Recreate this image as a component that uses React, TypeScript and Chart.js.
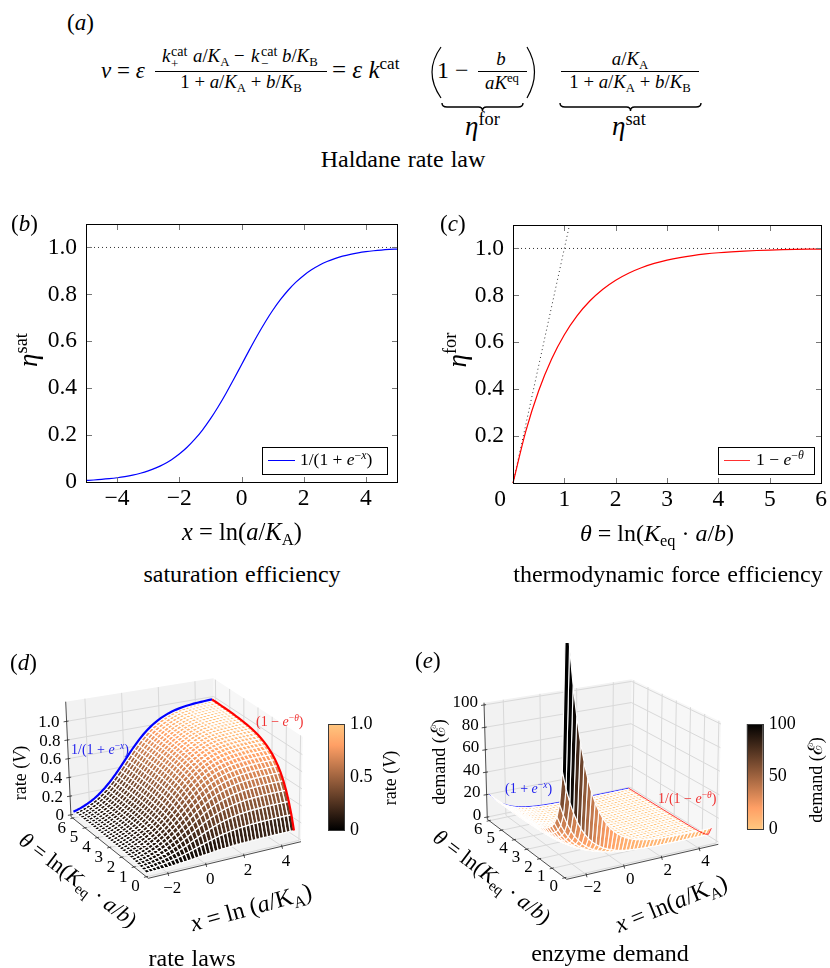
import React, { useEffect, useRef } from "react";
import { Chart, registerables } from "chart.js";

Chart.register(...registerables);

const SERIF = '"Liberation Serif", "Times New Roman", serif';
Chart.defaults.font.family = SERIF;

// ---------- panel (b) ----------
const satX = [-5,-4.75,-4.5,-4.25,-4,-3.75,-3.5,-3.25,-3,-2.75,-2.5,-2.25,-2,-1.75,-1.5,-1.25,-1,-0.75,-0.5,-0.25,0,0.25,0.5,0.75,1,1.25,1.5,1.75,2,2.25,2.5,2.75,3,3.25,3.5,3.75,4,4.25,4.5,4.75,5];
const satY = [0.0067,0.0086,0.011,0.0141,0.018,0.023,0.0293,0.0373,0.0474,0.0601,0.0759,0.0953,0.1192,0.148,0.1824,0.2227,0.2689,0.3208,0.3775,0.4378,0.5,0.5622,0.6225,0.6792,0.7311,0.7773,0.8176,0.852,0.8808,0.9047,0.9241,0.9399,0.9526,0.9627,0.9707,0.977,0.982,0.9859,0.989,0.9914,0.9933];
const bXTicks = [-4,-2,0,2,4];
const bYTicks = [0,0.2,0.4,0.6,0.8,1.0];
const bXRange = [-5,5];
// ---------- panel (c) ----------
const forX = [0,0.25,0.5,0.75,1,1.25,1.5,1.75,2,2.25,2.5,2.75,3,3.25,3.5,3.75,4,4.25,4.5,4.75,5,5.25,5.5,5.75,6];
const forY = [0,0.2212,0.3935,0.5276,0.6321,0.7135,0.7769,0.8262,0.8647,0.8946,0.9179,0.9361,0.9502,0.9612,0.9698,0.9765,0.9817,0.9857,0.9889,0.9913,0.9933,0.9948,0.9959,0.9968,0.9975];
const cXTicks = [1,2,3,4,5,6];
const cYTicks = [0.2,0.4,0.6,0.8,1.0];
const cXRange = [0,6];
const tangentX = [0,1.1];
const tangentY = [0,1.1];
const yRange = [0,1.1];

// ---------- panels (d), (e) ----------
const gridX = [-3,-2.8,-2.6,-2.4,-2.2,-2,-1.8,-1.6,-1.4,-1.2,-1,-0.8,-0.6,-0.4,-0.2,0,0.2,0.4,0.6,0.8,1,1.2,1.4,1.6,1.8,2,2.2,2.4,2.6,2.8,3,3.2,3.4,3.6,3.8,4,4.2,4.4,4.6,4.8];
const gridSat = [0.047,0.057,0.069,0.083,0.1,0.119,0.142,0.168,0.198,0.231,0.269,0.31,0.354,0.401,0.45,0.5,0.55,0.599,0.646,0.69,0.731,0.769,0.802,0.832,0.858,0.881,0.9,0.917,0.931,0.943,0.953,0.961,0.968,0.973,0.978,0.982,0.985,0.988,0.99,0.992];
const gridTheta = [0.1,0.3,0.5,0.7,0.9,1.1,1.3,1.5,1.7,1.9,2.1,2.3,2.5,2.7,2.9,3.1,3.3,3.5,3.7,3.9,4.1,4.3,4.5,4.7,4.9,5.1,5.3,5.5,5.7,5.9,6];
const gridFor = [0.095,0.259,0.393,0.503,0.593,0.667,0.727,0.777,0.817,0.85,0.878,0.9,0.918,0.933,0.945,0.955,0.963,0.97,0.975,0.98,0.983,0.986,0.989,0.991,0.993,0.994,0.995,0.996,0.997,0.997,0.998];
const rateTable = gridFor.map((f) => gridSat.map((s) => s * f));
const demandTable = gridFor.map((f) => gridSat.map((s) => 1 / (s * f)));
const ticks3dX = [-2,0,2,4];
const ticks3dTheta = [0,1,2,3,4,5,6];
const ticksRateZ = [0,0.2,0.4,0.6,0.8,1.0];
const ticksDemandZ = [0,20,40,60,80,100];
const rateBarTicks = [0,0.5,1];
const demandBarTicks = [0,50,100];

type P = { x: number; y: number };

function copper(v: number) {
  const t = Math.max(0, Math.min(1, v));
  const r = Math.min(1, 1.25 * t), g = 0.7812 * t, b = 0.4975 * t;
  return `rgb(${Math.round(r * 255)},${Math.round(g * 255)},${Math.round(b * 255)})`;
}

// projection of the 3-d box: the page positions of its eight corners
type Box = {
  origin: P; size: P;
  x: number[]; theta: number[]; z: number[];
  A: P; B: P; C: P; D: P; TA: P; TB: P; TL: P; TR: P;
};
const boxD: Box = {
  origin: { x: 0, y: 640 }, size: { x: 326, y: 260 },
  x: [-3.05, 5], theta: [-0.15, 6.15], z: [-0.02, 1.21],
  A: { x: 148.3, y: 878.3 }, B: { x: 301, y: 841.7 }, C: { x: 71, y: 816.7 }, D: { x: 214.7, y: 785 },
  TA: { x: 146, y: 753 }, TR: { x: 302.7, y: 736.7 }, TL: { x: 65.7, y: 701.7 }, TB: { x: 213.3, y: 678.3 },
};
const boxE: Box = {
  origin: { x: 440, y: 643 }, size: { x: 300, y: 257 },
  x: [-3.05, 5], theta: [-0.15, 6.15], z: [-2, 102],
  A: { x: 566.7, y: 879.3 }, B: { x: 718.3, y: 844.3 }, C: { x: 487.3, y: 819.3 }, D: { x: 630, y: 789.3 },
  TA: { x: 567.5, y: 751 }, TR: { x: 721, y: 721.7 }, TL: { x: 484, y: 702.7 }, TB: { x: 631.7, y: 679.3 },
};

function project(b: Box, x: number, th: number, z: number): P {
  const u = (x - b.x[0]) / (b.x[1] - b.x[0]);
  const v = (th - b.theta[0]) / (b.theta[1] - b.theta[0]);
  const w = (z - b.z[0]) / (b.z[1] - b.z[0]);
  const mix = (k: "x" | "y") => {
    const lo = (1 - v) * ((1 - u) * b.A[k] + u * b.B[k]) + v * ((1 - u) * b.C[k] + u * b.D[k]);
    const hi = (1 - v) * ((1 - u) * b.TA[k] + u * b.TR[k]) + v * ((1 - u) * b.TL[k] + u * b.TB[k]);
    return (1 - w) * lo + w * hi;
  };
  return { x: mix("x") - b.origin.x, y: mix("y") - b.origin.y };
}

function lineDs(data: P[], color: string, width: number, extra: any = {}) {
  return { data, showLine: true, borderColor: color, borderWidth: width, pointRadius: 0, tension: 0, fill: false, clip: false, ...extra };
}
function faceDs(data: P[], color: string) {
  return { data, showLine: true, borderColor: color, borderWidth: 0, pointRadius: 0, tension: 0, fill: "shape", backgroundColor: color };
}

function surfaceConfig(b: Box, table: number[][], colorOf: (z: number) => string, edge: number, curve: number, blueBehind: boolean, zTicks: number[], zLabel: (v: number) => string, offs: { x: P; th: P; z: P }) {
  const ds: any[] = [];
  const [x0, x1] = b.x, [t0, t1] = b.theta, [z0, z1] = b.z;
  const last = gridX.length - 1;
  const rows = gridTheta.length - 1;
  const blue = lineDs(gridX.map((x, i) => project(b, x, gridTheta[rows], table[rows][i])), "#0000ff", curve);
  ds.push(lineDs(gridTheta.map((t, j) => project(b, gridX[last], t, table[j][last])), "#ff0000", curve));
  if (!blueBehind) ds.push(blue);
  // mesh, nearest cell first
  for (let j = 0; j < rows; j++) {
    if (blueBehind && j === rows - 1) ds.push(blue);
    for (let i = 0; i < gridX.length - 1; i++) {
      const m = (table[j][i] + table[j][i + 1] + table[j + 1][i] + table[j + 1][i + 1]) / 4;
      ds.push({
        data: [
          project(b, gridX[i], gridTheta[j], table[j][i]),
          project(b, gridX[i + 1], gridTheta[j], table[j][i + 1]),
          project(b, gridX[i + 1], gridTheta[j + 1], table[j + 1][i + 1]),
          project(b, gridX[i], gridTheta[j + 1], table[j + 1][i]),
          project(b, gridX[i], gridTheta[j], table[j][i]),
        ],
        showLine: true, fill: "shape", backgroundColor: colorOf(m), borderColor: "#ffffff", borderWidth: edge, pointRadius: 0, tension: 0,
      });
    }
  }
  // axis lines and ticks
  const axis = "#222222";
  ds.push(lineDs([project(b, x0, t0, z0), project(b, x1, t0, z0)], axis, 0.8));
  ds.push(lineDs([project(b, x0, t0, z0), project(b, x0, t1, z0)], axis, 0.8));
  ds.push(lineDs([project(b, x0, t1, z0), project(b, x0, t1, z1)], axis, 0.8));
  for (const v of zTicks) {
    const p = project(b, x0, t1, v);
    ds.push(lineDs([{ x: p.x - 3, y: p.y + 0.5 }, { x: p.x + 2, y: p.y - 0.3 }], axis, 0.8));
  }
  for (const v of ticks3dX) {
    const p = project(b, v, t0, z0);
    ds.push(lineDs([{ x: p.x - 0.5, y: p.y - 1.5 }, { x: p.x + 0.5, y: p.y + 2.5 }], axis, 0.8));
  }
  for (const v of ticks3dTheta) {
    const p = project(b, x0, v, z0);
    ds.push(lineDs([{ x: p.x + 1.5, y: p.y - 0.5 }, { x: p.x - 2.5, y: p.y + 0.5 }], axis, 0.8));
  }
  // grid
  const grid = "#d9d9d9";
  for (const v of ticks3dX) ds.push(lineDs([project(b, v, t0, z0), project(b, v, t1, z0), project(b, v, t1, z1)], grid, 1));
  for (const v of ticks3dTheta) ds.push(lineDs([project(b, x0, v, z0), project(b, x1, v, z0), project(b, x1, v, z1)], grid, 1));
  for (const v of zTicks) ds.push(lineDs([project(b, x0, t1, v), project(b, x1, t1, v), project(b, x1, t0, v)], grid, 1));
  // panes
  ds.push(faceDs([project(b, x0, t0, z0), project(b, x1, t0, z0), project(b, x1, t1, z0), project(b, x0, t1, z0), project(b, x0, t0, z0)], "#f3f3f3"));
  ds.push(faceDs([project(b, x0, t1, z0), project(b, x1, t1, z0), project(b, x1, t1, z1), project(b, x0, t1, z1), project(b, x0, t1, z0)], "#f2f2f2"));
  ds.push(faceDs([project(b, x1, t1, z0), project(b, x1, t0, z0), project(b, x1, t0, z1), project(b, x1, t1, z1), project(b, x1, t1, z0)], "#f7f7f7"));

  const labels = {
    id: "labels3d",
    afterDraw(c: any) {
      const g = c.ctx;
      g.save();
      g.fillStyle = "#000";
      g.font = `17px ${SERIF}`;
      g.textBaseline = "middle";
      g.textAlign = "center";
      for (const v of ticks3dX) {
        const p = project(b, v, t0, z0);
        g.fillText(v < 0 ? "\u2212" + -v : String(v), p.x + offs.x.x, p.y + offs.x.y);
      }
      for (const v of ticks3dTheta) {
        const p = project(b, x0, v, z0);
        g.fillText(String(v), p.x + offs.th.x, p.y + offs.th.y);
      }
      g.textAlign = "right";
      for (const v of zTicks) {
        const p = project(b, x0, t1, v);
        g.fillText(zLabel(v), p.x + offs.z.x, p.y + offs.z.y);
      }
      g.restore();
    },
  };
  return {
    type: "scatter",
    data: { datasets: ds },
    plugins: [labels],
    options: {
      responsive: false, animation: false, events: [], devicePixelRatio: 1,
      layout: { padding: 0 },
      plugins: { legend: { display: false }, tooltip: { enabled: false } },
      scales: {
        x: { type: "linear", display: false, min: 0, max: b.size.x },
        y: { type: "linear", display: false, min: 0, max: b.size.y, reverse: true },
      },
    },
  };
}

function fmtY(v: number) {
  return v === 0 ? "0" : v.toFixed(1);
}
function fmtX(v: number) {
  return v < 0 ? "\u2212" + -v : String(v);
}

function lineConfig(o: { datasets: any[]; xRange: number[]; xTicks: number[]; yTicks: number[]; left: number; top: number; bottom: number; right: number }) {
  const off = { display: false, drawTicks: false };
  return {
    type: "scatter",
    data: { datasets: o.datasets },
    options: {
      responsive: false, animation: false, events: [], devicePixelRatio: 1,
      layout: { padding: { top: o.top, right: o.right, left: 0, bottom: 0 } },
      plugins: { legend: { display: false }, tooltip: { enabled: false } },
      scales: {
        x: {
          type: "linear", position: "bottom", min: o.xRange[0], max: o.xRange[1], grid: off, border: { display: false },
          afterBuildTicks: (s: any) => { s.ticks = o.xTicks.map((value) => ({ value })); },
          afterFit: (s: any) => { s.height = o.bottom; },
          ticks: { callback: (v: number) => fmtX(v), font: { size: 23.5 }, color: "#000", padding: 3, maxRotation: 0, autoSkip: false },
        },
        y: {
          type: "linear", position: "left", min: yRange[0], max: yRange[1], grid: off, border: { display: false },
          afterBuildTicks: (s: any) => { s.ticks = o.yTicks.map((value) => ({ value })); },
          afterFit: (s: any) => { s.width = o.left; },
          ticks: { callback: (v: number) => fmtY(v), font: { size: 23.5 }, color: "#000", padding: 9, autoSkip: false },
        },
      },
    },
  };
}

function barConfig(range: number[], tickVals: number[], stops: [number, string][], fmt: (v: number) => string, left: number, axisWidth: number, top: number, bottom: number) {
  return {
    type: "bar",
    data: {
      labels: [""],
      datasets: [{
        data: [[range[0], range[1]]],
        barPercentage: 1, categoryPercentage: 1, borderWidth: 0,
        backgroundColor: (ctx: any) => {
          const { ctx: g, chartArea: a } = ctx.chart;
          if (!a) return "#888";
          const grad = g.createLinearGradient(0, a.bottom, 0, a.top);
          for (const [s, col] of stops) grad.addColorStop(s, col);
          return grad;
        },
      }],
    },
    options: {
      responsive: false, animation: false, events: [], devicePixelRatio: 1,
      layout: { padding: { left, top, bottom } },
      plugins: { legend: { display: false }, tooltip: { enabled: false } },
      scales: {
        x: { display: false },
        y: {
          position: "right", min: range[0], max: range[1],
          grid: { display: false, drawTicks: false }, border: { display: false },
          afterBuildTicks: (s: any) => { s.ticks = tickVals.map((value) => ({ value })); },
          afterFit: (s: any) => { s.width = axisWidth; },
          ticks: { callback: (v: number) => fmt(v), font: { size: 18 }, color: "#000", padding: 6, autoSkip: false },
        },
      },
    },
  };
}

// frame and inward tick marks, placed from the chart's own scales
function addFrame(host: HTMLDivElement, chart: any, ticks: boolean, frameColor: string) {
  const a = chart.chartArea;
  const L = Math.round(a.left), Rt = Math.round(a.right), Tp = Math.round(a.top), Bt = Math.round(a.bottom);
  const piece = (left: number, top: number, width: number, height: number, color: string) => {
    const d = document.createElement("div");
    d.style.cssText = `position:absolute;left:${left}px;top:${top}px;width:${width}px;height:${height}px;background:${color}`;
    host.appendChild(d);
  };
  if (ticks) {
    const len = 6, col = "#777777";
    for (const t of chart.scales.x.ticks) {
      const p = Math.round(chart.scales.x.getPixelForValue(t.value));
      piece(p, Tp, 1, len, col);
      piece(p, Bt - len + 1, 1, len, col);
    }
    for (const t of chart.scales.y.ticks) {
      const p = Math.round(chart.scales.y.getPixelForValue(t.value));
      piece(L, p, len, 1, col);
      piece(Rt - len + 1, p, len, 1, col);
    }
  }
  piece(L, Tp, Rt - L + 1, 1, frameColor);
  piece(L, Bt, Rt - L + 1, 1, frameColor);
  piece(L, Tp, 1, Bt - Tp + 1, frameColor);
  piece(Rt, Tp, 1, Bt - Tp + 1, frameColor);
}

function ChartBox({ left, top, width, height, make, frame, ticks }: { left: number; top: number; width: number; height: number; make: () => any; frame?: string; ticks?: boolean }) {
  const ref = useRef<HTMLCanvasElement | null>(null);
  const host = useRef<HTMLDivElement | null>(null);
  useEffect(() => {
    const chart = new Chart(ref.current as any, make());
    if (frame && host.current) addFrame(host.current, chart, !!ticks, frame);
    return () => {
      chart.destroy();
      if (host.current) host.current.innerHTML = "";
    };
  }, []);
  return (
    <React.Fragment>
      <canvas ref={ref} width={width} height={height} style={{ position: "absolute", left, top, width, height, display: "block" }} />
      <div ref={host} style={{ position: "absolute", left, top, width, height, pointerEvents: "none" }} />
    </React.Fragment>
  );
}

// ---------- text helpers ----------
function T({ x, b, s, c, color, children, ws }: { x: number; b: number; s: number; c?: boolean; color?: string; children: any; ws?: number }) {
  return (
    <span style={{ position: "absolute", left: x, top: b - 0.8375 * s, fontSize: s, lineHeight: 1, whiteSpace: "pre", color: color || "#000", wordSpacing: ws, transform: c ? "translateX(-50%)" : undefined }}>
      {children}
    </span>
  );
}
function R({ x, y, s, a, color, children }: { x: number; y: number; s: number; a: number; color?: string; children: any }) {
  return (
    <span style={{ position: "absolute", left: x, top: y, fontSize: s, lineHeight: 1, whiteSpace: "pre", color: color || "#000", transform: `translate(-50%,-50%) rotate(${a}deg)` }}>
      {children}
    </span>
  );
}
const I = ({ children }: any) => <i>{children}</i>;
const Sup = ({ children }: any) => <span style={{ fontSize: "0.68em", position: "relative", top: "-0.55em", lineHeight: 0 }}>{children}</span>;
const Sub = ({ children }: any) => <span style={{ fontSize: "0.68em", position: "relative", top: "0.3em", lineHeight: 0 }}>{children}</span>;
const Bar = ({ x0, x1, y }: { x0: number; x1: number; y: number }) => <div style={{ position: "absolute", left: x0, top: y, width: x1 - x0, height: 1, background: "#000" }} />;

function LegendBox({ x, y, w, h, color, lineX0, lineX1, children }: any) {
  return (
    <React.Fragment>
      <div style={{ position: "absolute", left: x, top: y, width: w, height: h, border: "1px solid #000", boxSizing: "border-box", background: "#fff" }} />
      <div style={{ position: "absolute", left: lineX0, top: y + 13, width: lineX1 - lineX0, height: 1.2, background: color }} />
      {children}
    </React.Fragment>
  );
}

function Brace({ x0, x1, y }: { x0: number; x1: number; y: number }) {
  const m = (x0 + x1) / 2;
  return <path d={`M${x0} ${y} Q${x0} ${y + 4} ${x0 + 5} ${y + 4} L${m - 4} ${y + 4} Q${m} ${y + 4} ${m} ${y + 8} Q${m} ${y + 4} ${m + 4} ${y + 4} L${x1 - 5} ${y + 4} Q${x1} ${y + 4} ${x1} ${y}`} fill="none" stroke="#000" strokeWidth="1.4" />;
}

const stopsCopper: [number, string][] = [[0, copper(0)], [0.8, copper(0.8)], [1, copper(1)]];
const stopsCopperR: [number, string][] = [[0, copper(1)], [0.2, copper(0.8)], [1, copper(0)]];
const Script = () => <span style={{ fontSize: "1.1em" }}>ℰ</span>;

export default function App() {
  return (
    <div style={{ position: "absolute", left: 0, top: 0, width: 830, height: 968, overflow: "hidden", background: "#fff", fontFamily: SERIF, color: "#000" }}>
      {/* panel a */}
      <T x={67} b={30} s={23}>(<I>a</I>)</T>
      <T x={101} b={78} s={23}><I>v</I> = <I>ε</I></T>
      <Bar x0={155} x1={327} y={71} />
      <T x={162} b={63} s={18.8}><I>k</I></T>
      <T x={171} b={57} s={14}>cat</T>
      <T x={171} b={68} s={13}>+</T>
      <T x={193} b={63} s={18.8}><I>a</I>/<I>K</I><Sub>A</Sub></T>
      <T x={234} b={63} s={18.8}>−</T>
      <T x={251} b={63} s={18.8}><I>k</I></T>
      <T x={261} b={57} s={14}>cat</T>
      <T x={261} b={68} s={13}>−</T>
      <T x={282} b={63} s={18.8}><I>b</I>/<I>K</I><Sub>B</Sub></T>
      <T x={241} b={89} s={18.8} c>1 + <I>a</I>/<I>K</I><Sub>A</Sub> + <I>b</I>/<I>K</I><Sub>B</Sub></T>
      <T x={332} b={78} s={25}>= <I>ε</I> <I>k</I><Sup>cat</Sup></T>
      <T x={437} b={78} s={24}>1 −</T>
      <Bar x0={478} x1={527} y={71} />
      <T x={501} b={66} s={18.8} c><I>b</I></T>
      <T x={502} b={90} s={18.8} c><I>aK</I><Sup>eq</Sup></T>
      <Bar x0={561} x1={699} y={71} />
      <T x={630} b={66} s={18.8} c><I>a</I>/<I>K</I><Sub>A</Sub></T>
      <T x={630} b={89} s={18.8} c>1 + <I>a</I>/<I>K</I><Sub>A</Sub> + <I>b</I>/<I>K</I><Sub>B</Sub></T>
      <svg width={830} height={190} style={{ position: "absolute", left: 0, top: 0 }}>
        <path d="M441 47 Q423 72 441 98" fill="none" stroke="#000" strokeWidth="1.2" />
        <path d="M527 47 Q542 72 527 98" fill="none" stroke="#000" strokeWidth="1.2" />
        <Brace x0={442} x1={523} y={103} />
        <Brace x0={560} x1={701} y={103} />
      </svg>
      <T x={465} b={136} s={27}><I>η</I><Sup>for</Sup></T>
      <T x={612} b={136} s={27}><I>η</I><Sup>sat</Sup></T>
      <T x={403} b={167} s={24} c ws={1}>Haldane rate law</T>

      {/* panel b */}
      <ChartBox left={0} top={200} width={415} height={320} frame="#000000" ticks make={() => lineConfig({
        left: 86, top: 24, right: 18, bottom: 38, xRange: bXRange, xTicks: bXTicks, yTicks: bYTicks,
        datasets: [
          lineDs(satX.map((x, i) => ({ x, y: satY[i] })), "#0000ff", 1.2, { cubicInterpolationMode: "monotone" }),
          lineDs(bXRange.map((x) => ({ x, y: 1 })), "#333", 1, { borderDash: [1, 3] }),
        ],
      })} />
      <T x={11} b={231} s={23}>(<I>b</I>)</T>
      <R x={28} y={350} s={27} a={-90}><I>η</I><Sup>sat</Sup></R>
      <T x={242} b={541} s={24.5} c><I>x</I> = ln(<I>a</I>/<I>K</I><Sub>A</Sub>)</T>
      <T x={242} b={582} s={24} c ws={1}>saturation efficiency</T>
      <LegendBox x={262} y={447} w={126} h={28} color="#0000ff" lineX0={268} lineX1={295}>
        <T x={300} b={466} s={17.5}>1/(1 + <I>e</I><Sup>−<I>x</I></Sup>)</T>
      </LegendBox>

      {/* panel c */}
      <ChartBox left={415} top={200} width={415} height={320} frame="#000000" ticks make={() => lineConfig({
        left: 98, top: 25, right: 6, bottom: 37, xRange: cXRange, xTicks: cXTicks, yTicks: cYTicks,
        datasets: [
          lineDs(forX.map((x, i) => ({ x, y: forY[i] })), "#ff0000", 1.2, { cubicInterpolationMode: "monotone" }),
          lineDs(cXRange.map((x) => ({ x, y: 1 })), "#333", 1, { borderDash: [1, 3] }),
          lineDs(tangentX.map((x, i) => ({ x, y: tangentY[i] })), "#333", 1, { borderDash: [1, 3] }),
        ],
      })} />
      <T x={440} b={231} s={23}>(<I>c</I>)</T>
      <T x={500} b={507} s={23.5} c>0</T>
      <R x={457} y={350} s={27} a={-90}><I>η</I><Sup>for</Sup></R>
      <T x={657} b={541} s={24} c><I>θ</I> = ln(<I>K</I><Sub>eq</Sub> · <I>a</I>/<I>b</I>)</T>
      <T x={668} b={582} s={24} c ws={1}>thermodynamic force efficiency</T>
      <LegendBox x={718} y={447} w={97} h={28} color="#ff3030" lineX0={724} lineX1={750}>
        <T x={756} b={466} s={17.5}>1 − <I>e</I><Sup>−<I>θ</I></Sup></T>
      </LegendBox>

      {/* panel d */}
      <ChartBox left={boxD.origin.x} top={boxD.origin.y} width={boxD.size.x} height={boxD.size.y} make={() =>
        surfaceConfig(boxD, rateTable, (z) => copper(z), 1.25, 2.2, false, ticksRateZ, (v) => (v === 0 ? "0" : v.toFixed(1)), {
          x: { x: 4, y: 15 }, th: { x: -11, y: 10 }, z: { x: -7, y: 1 },
        })} />
      <ChartBox left={300} top={700} width={100} height={150} frame="#3a3a3a" make={() =>
        barConfig([0, 1], rateBarTicks, stopsCopper, (v) => (v === 0 ? "0" : v.toFixed(1)), 28, 56, 24, 20)} />
      <T x={10} b={670} s={23}>(<I>d</I>)</T>
      <R x={20} y={773} s={18} a={-90}>rate (<I>V</I>)</R>
      <R x={78} y={880} s={22} a={37}><I>θ</I> = ln(<I>K</I><Sub>eq</Sub> · <I>a</I>/<I>b</I>)</R>
      <R x={251} y={907} s={24} a={-15.5}><I>x</I> = ln (<I>a</I>/K<Sub>A</Sub>)</R>
      <R x={390} y={778} s={18} a={-90}>rate (<I>V</I>)</R>
      <T x={192} b={966} s={24} c ws={1}>rate laws</T>
      <T x={71} b={755} s={14} color="#2222ee">1/(1 + <I>e</I><Sup>−<I>x</I></Sup>)</T>
      <T x={256} b={727} s={14} color="#f03030">(1 − <I>e</I><Sup>−<I>θ</I></Sup>)</T>

      {/* panel e */}
      <ChartBox left={boxE.origin.x} top={boxE.origin.y} width={boxE.size.x} height={boxE.size.y} make={() =>
        surfaceConfig(boxE, demandTable, (z) => copper(1 - z / 100), 1.1, 0.8, true, ticksDemandZ, (v) => String(v), {
          x: { x: 6, y: 13 }, th: { x: -11, y: 8.5 }, z: { x: -6, y: -2 },
        })} />
      <ChartBox left={720} top={700} width={110} height={150} frame="#3a3a3a" make={() =>
        barConfig([0, 100], demandBarTicks, stopsCopperR, (v) => String(v), 26.7, 67.3, 24, 21)} />
      <T x={415} b={668} s={23}>(<I>e</I>)</T>
      <R x={439} y={762} s={18} a={-90}>demand (<Script />)</R>
      <R x={492} y={877} s={22} a={37}><I>θ</I> = ln(<I>K</I><Sub>eq</Sub> · <I>a</I>/<I>b</I>)</R>
      <R x={671} y={903} s={24} a={-22}><I>x</I> = ln(<I>a</I>/K<Sub>A</Sub>)</R>
      <R x={816} y={780} s={18} a={-90}>demand (<Script />)</R>
      <T x={610} b={961} s={24} c ws={1}>enzyme demand</T>
      <T x={505} b={794} s={14} color="#2222ee">(1 + <I>e</I><Sup>−<I>x</I></Sup>)</T>
      <T x={658} b={804} s={14} color="#f03030">1/(1 − <I>e</I><Sup>−<I>θ</I></Sup>)</T>
    </div>
  );
}
